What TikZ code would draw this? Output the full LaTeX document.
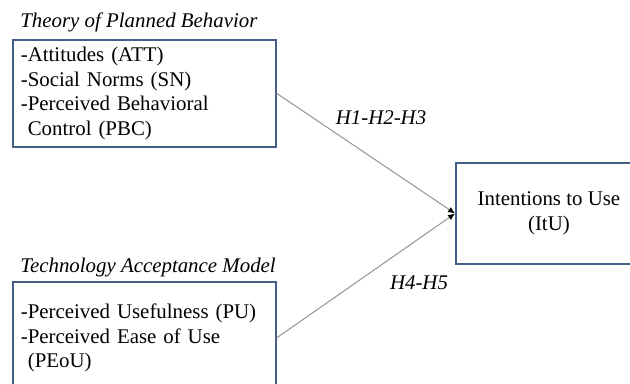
\documentclass[tikz,border=0pt]{standalone}
\usepackage{fontspec}
\setmainfont{Liberation Serif}
\usetikzlibrary{arrows.meta}
\definecolor{boxblue}{RGB}{68,94,136}
\definecolor{linegray}{RGB}{150,150,150}
\tikzstyle{block} = [draw=boxblue, line width=1pt, rectangle, inner xsep=4.6pt, inner ysep=0pt,
  font=\fontsize{12}{14.1}\selectfont]
\tikzstyle{model} = [font=\fontsize{12}{14.1}\selectfont\itshape, inner sep=0pt, anchor=base west]
\tikzstyle{hyp} = [font=\fontsize{12}{14.1}\selectfont\itshape, inner sep=0pt]
\tikzstyle{line} = [draw=linegray, line width=0.6pt, -{Latex[black,length=4pt,width=3.5pt]}]

\begin{document}
\begin{tikzpicture}[x=0.575pt,y=-0.575pt]
    \useasboundingbox (0,0) rectangle (630,383);
    % models
    \node[model] (tpbname) at (20,28) {Theory of Planned Behavior};
    \node[block, anchor=north west, minimum width=151.2pt, minimum height=61.5pt,
      text width=142pt, align=left] (tpb) at (12,39)
      {-Attitudes (ATT)\\-Social Norms (SN)\\-Perceived Behavioral\\\hphantom{-}Control (PBC)};
    \node[model] (tamname) at (20,272) {Technology Acceptance Model};
    \node[block, anchor=north west, minimum width=151.2pt, minimum height=64.4pt,
      text width=142pt, align=left] (tam) at (12,281)
      {-Perceived Usefulness (PU)\\-Perceived Ease of Use\\\hphantom{-}(PEoU)};
    \node[block, anchor=west, minimum width=107pt, minimum height=58pt, align=center] (itu)
      at (455,213.5) {Intentions to Use\\(ItU)};
    % hypotheses
    \draw[line] (tpb.east) -- (itu.west);
    \draw[line] (tam.east) -- (itu.west);
    \node[hyp] (h123) at (381,118) {H1-H2-H3};
    \node[hyp] (h45) at (419,283) {H4-H5};
\end{tikzpicture}
\end{document}
